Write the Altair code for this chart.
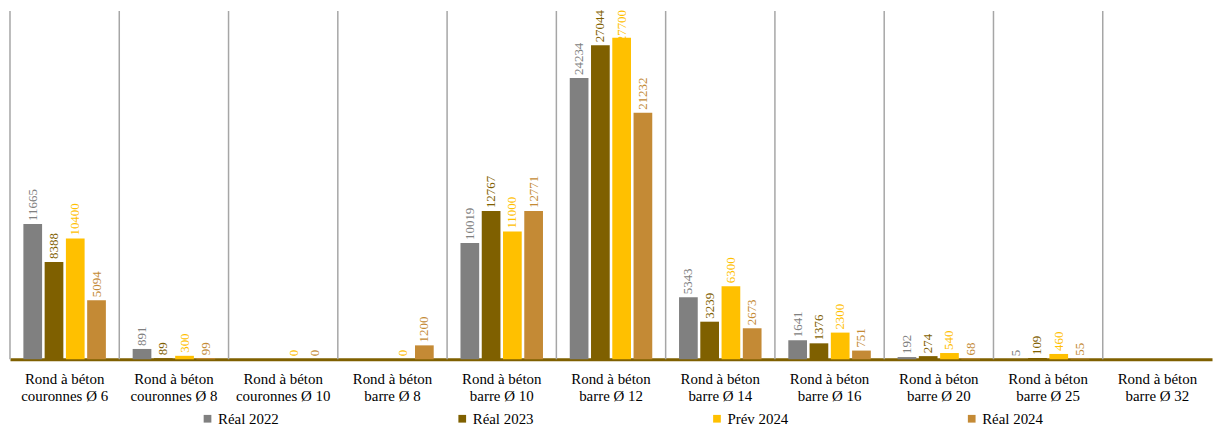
import altair as alt
import pandas as pd

cats = [
    "Rond à béton|couronnes Ø 6",
    "Rond à béton|couronnes Ø 8",
    "Rond à béton|couronnes Ø 10",
    "Rond à béton|barre Ø 8",
    "Rond à béton|barre Ø 10",
    "Rond à béton|barre Ø 12",
    "Rond à béton|barre Ø 14",
    "Rond à béton|barre Ø 16",
    "Rond à béton|barre Ø 20",
    "Rond à béton|barre Ø 25",
    "Rond à béton|barre Ø 32",
]
series = ["Réal 2022", "Réal 2023", "Prév 2024", "Réal 2024"]
colors = ["#808080", "#7F6000", "#FFC000", "#C48A35"]

real_2022 = [11665, 891, None, None, 10019, 24234, 5343, 1641, 192, 5, None]
real_2023 = [8388, 89, None, None, 12767, 27044, 3239, 1376, 274, 109, None]
prev_2024 = [10400, 300, 0, 0, 11000, 27700, 6300, 2300, 540, 460, None]
real_2024 = [5094, 99, 0, 1200, 12771, 21232, 2673, 751, 68, 55, None]

rows = []
for s, vals in zip(series, [real_2022, real_2023, prev_2024, real_2024]):
    for c, v in zip(cats, vals):
        rows.append({"cat": c, "serie": s, "val": v})
df = pd.DataFrame(rows)

FONT = "Liberation Serif"

x_main = alt.X(
    "cat:N", sort=cats, title=None,
    scale=alt.Scale(domain=cats, paddingInner=0.245, paddingOuter=0.1225),
    axis=alt.Axis(
        labelExpr="split(datum.label, '|')", labelAngle=0, labelFont=FONT,
        labelFontSize=15, labelColor="#000000", labelLineHeight=17,
        domainColor="#7F6000", domainWidth=3, ticks=False, grid=False,
        labelPadding=12,
    ),
)
x_text = alt.X("cat:N", sort=cats, title=None,
               scale=alt.Scale(domain=cats, paddingInner=0.245, paddingOuter=0.1225),
               axis=None)
xoff = alt.XOffset("serie:N", sort=series,
                   scale=alt.Scale(domain=series, paddingInner=0.12))
y = alt.Y("val:Q", scale=alt.Scale(domain=[0, 30000]), axis=None)
color_scale = alt.Scale(domain=series, range=colors)

rules = alt.Chart(pd.DataFrame({"cat": cats})).mark_rule(
    color="#A6A6A6", strokeWidth=1.5
).encode(
    x=alt.X("cat:N", sort=cats, bandPosition=0,
            scale=alt.Scale(domain=cats, paddingInner=0, paddingOuter=0), axis=None)
)

bars = alt.Chart(df).mark_bar().encode(
    x=x_main, xOffset=xoff, y=y,
    color=alt.Color("serie:N", sort=series, scale=color_scale,
                    legend=alt.Legend(
                        title=None, orient="none", direction="horizontal",
                        legendX=191, legendY=402, symbolType="square",
                        symbolSize=60, symbolStrokeWidth=0,
                        labelFont=FONT, labelFontSize=15, labelColor="#000000",
                        labelOffset=3, columnPadding=176, gridAlign="all",
                    )),
)

# labels that would run past the top are nudged down into the bar, as in the original
text = alt.Chart(df).transform_filter("isValid(datum.val)").transform_calculate(
    ly="min(datum.val, 27050)"
).mark_text(
    angle=270, align="left", baseline="middle", dx=3, font=FONT, fontSize=13
).encode(
    x=x_text, xOffset=xoff,
    y=alt.Y("ly:Q", scale=alt.Scale(domain=[0, 30000]), axis=None),
    text=alt.Text("val:Q", format="d"),
    color=alt.Color("serie:N", sort=series, scale=color_scale, legend=None),
)

chart = alt.layer(rules, bars, text).resolve_scale(x="independent").properties(
    width=1208, height=350,
    padding={"left": 2, "top": 2, "right": 5, "bottom": 68},
    autosize="none",
).configure_view(stroke=None).configure_axis(
    labelFont=FONT
).configure_legend(labelFont=FONT).configure_text(font=FONT)

chart.save("out.html", embed_options={"renderer": "svg", "actions": False})
